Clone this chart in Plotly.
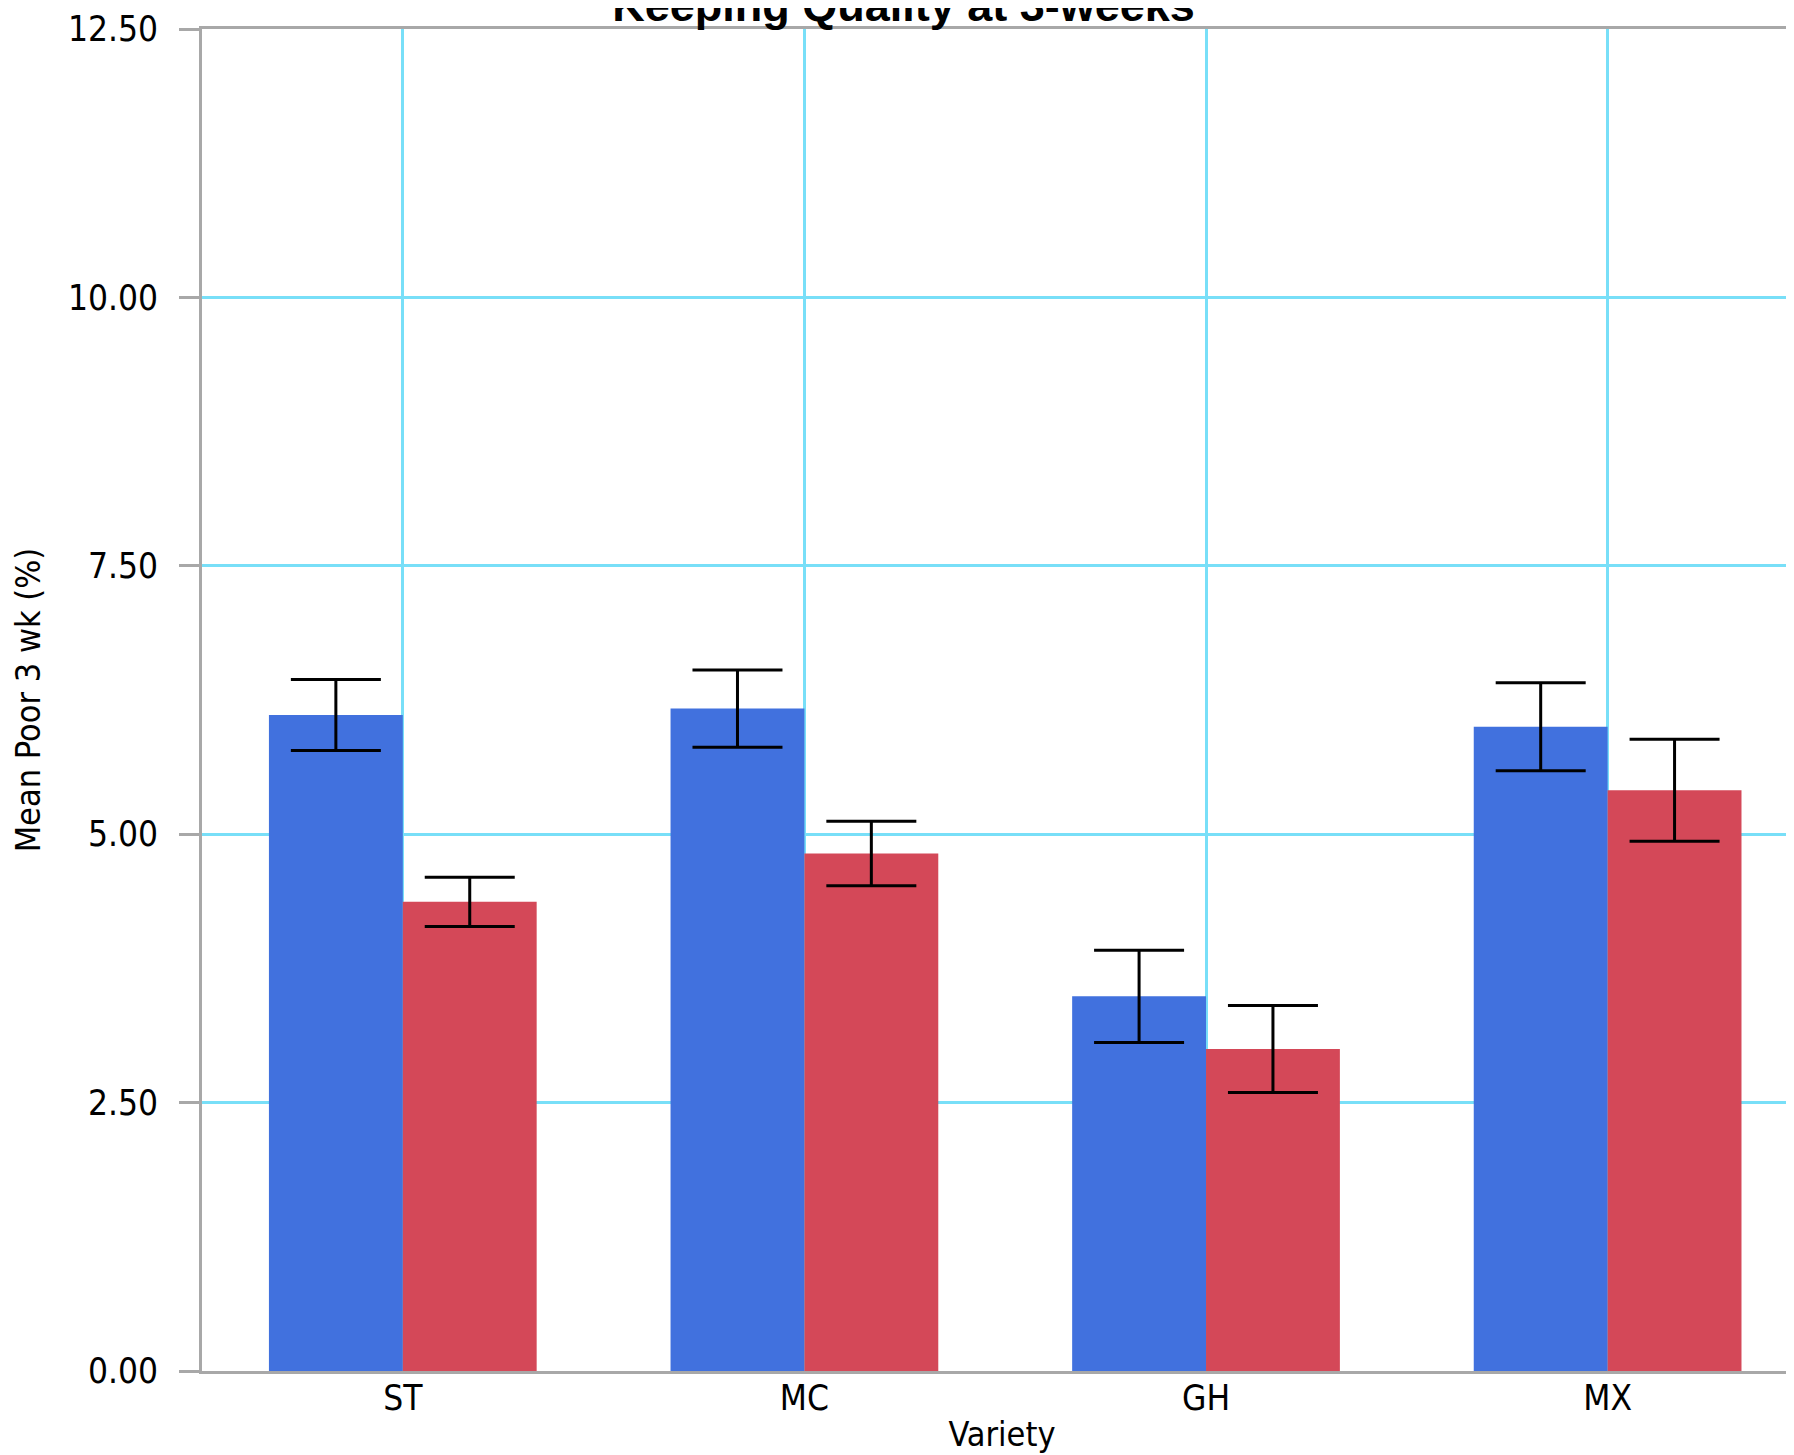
import plotly.graph_objects as go

categories = ["ST", "MC", "GH", "MX"]
series_a = [6.11, 6.17, 3.49, 6.00]
series_a_err = [0.33, 0.36, 0.43, 0.41]
series_b = [4.37, 4.82, 3.00, 5.41]
series_b_err = [0.23, 0.30, 0.405, 0.475]
y_ticks = [0, 2.5, 5, 7.5, 10, 12.5]
y_tick_labels = ["0.00", "2.50", "5.00", "7.50", "10.00", "12.50"]

NARROW = "Liberation Sans Narrow, Arial Narrow, DejaVu Sans Condensed, sans-serif"
AXIS_GRAY = "#A8A8A8"
GRID = "#78DFF8"

fig = go.Figure()
fig.add_trace(go.Bar(
    x=categories, y=series_a, marker=dict(color="#4171DE", line=dict(width=0)),
    error_y=dict(type="data", array=series_a_err, color="black", thickness=3, width=45),
    showlegend=False,
))
fig.add_trace(go.Bar(
    x=categories, y=series_b, marker=dict(color="#D44858", line=dict(width=0)),
    error_y=dict(type="data", array=series_b_err, color="black", thickness=3, width=45),
    showlegend=False,
))

fig.update_layout(
    width=1794, height=1455,
    margin=dict(l=194, r=0, t=21, b=92, pad=0, autoexpand=False),
    paper_bgcolor="white", plot_bgcolor="white",
    barmode="group", bargap=1/3, bargroupgap=0,
    title=dict(text="<b>Keeping Quality at 3-weeks</b>",
               font=dict(family="Liberation Sans, Arial, sans-serif", size=45, color="black"),
               x=0.4992, xanchor="center", xref="container",
               y=1 - 13/1455, yanchor="bottom", yref="container"),
    font=dict(family=NARROW, color="black"),
)
fig.update_xaxes(
    range=[-0.5, 3.484],
    showgrid=True, gridcolor=GRID, gridwidth=3,
    showline=True, linecolor=AXIS_GRAY, linewidth=3, mirror=True,
    ticks="", tickfont=dict(family=NARROW, size=35, color="black"),
    ticklabelstandoff=-6,
    title=dict(text="Variety", font=dict(family=NARROW, size=34, color="black"), standoff=6),
    zeroline=False, automargin=False,
)
fig.update_yaxes(
    range=[0, 12.5],
    tickvals=y_ticks, ticktext=y_tick_labels,
    showgrid=True, gridcolor=GRID, gridwidth=3,
    showline=True, linecolor=AXIS_GRAY, linewidth=3,
    ticks="outside", ticklen=20, tickwidth=3, tickcolor=AXIS_GRAY,
    ticklabelstandoff=14,
    tickfont=dict(family=NARROW, size=35, color="black"),
    title=dict(text="Mean Poor 3 wk (%)", font=dict(family=NARROW, size=34, color="black"), standoff=18),
    zeroline=False, automargin=False,
)

fig.write_html("out.html")
